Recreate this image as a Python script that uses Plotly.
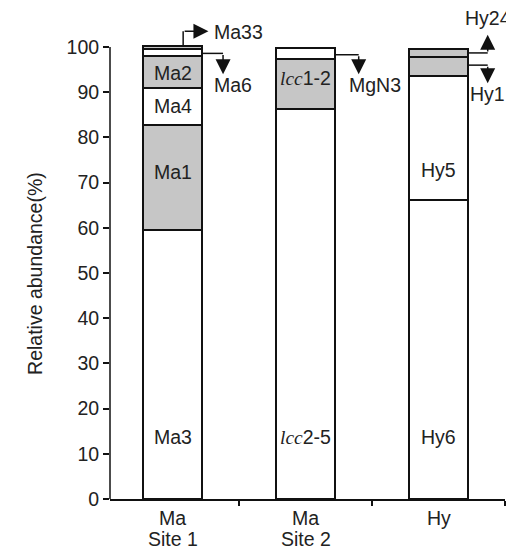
import plotly.graph_objects as go

# ---------------- data ----------------
cat_top = ["Ma", "Ma", "Hy"]
cat_bottom = ["Site 1", "Site 2", ""]

site1_names = ["Ma3", "Ma1", "Ma4", "Ma2", "Ma6", "Ma33"]
site1_values = [59.5, 23.2, 8.2, 7.2, 1.4, 0.7]
site1_gray = [False, True, False, True, False, True]

site2_names = ["lcc2-5", "lcc1-2", "MgN3"]
site2_values = [86.4, 10.9, 2.4]
site2_gray = [False, True, False]

hy_names = ["Hy6", "Hy5", "Hy1", "Hy24"]
hy_values = [66.2, 27.5, 4.2, 1.6]
hy_gray = [False, False, True, True]

y_ticks = [0, 10, 20, 30, 40, 50, 60, 70, 80, 90, 100]

# ---------------- style ----------------
FONT = "Liberation Sans, Arial, sans-serif"
TXT = "#222222"
GRAY = "#c6c6c6"
LINE = "#111111"
BAR_W = 0.45
FS = 19.5

fig = go.Figure()
stacks = [(site1_names, site1_values, site1_gray),
          (site2_names, site2_values, site2_gray),
          (hy_names, hy_values, hy_gray)]
for i, (names, vals, grays) in enumerate(stacks):
    for n, v, g in zip(names, vals, grays):
        fig.add_trace(go.Bar(
            x=[i], y=[v], name=n, width=BAR_W,
            marker=dict(color=GRAY if g else "white",
                        line=dict(color=LINE, width=2)),
            showlegend=False, hoverinfo="name+y"))

fig.update_layout(barmode="stack")

ann = []
def lab(x, y, t, anchor="center", yshift=0):
    ann.append(dict(x=x, y=y, xref="x", yref="y", text=t, showarrow=False,
                    xanchor=anchor, yanchor="middle", yshift=yshift,
                    font=dict(family=FONT, size=FS, color=TXT)))

lcc = "<span style='font-family:Liberation Serif, Times New Roman, serif'><i>lcc</i></span>"
# inside labels
lab(0, 13.7, "Ma3")
lab(0, 72.3, "Ma1")
lab(0, 87.0, "Ma4")
lab(0, 94.3, "Ma2")
lab(1, 13.7, lcc + "2-5")
lab(1, 93.1, lcc + "1-2")
lab(2, 13.7, "Hy6")
lab(2, 72.8, "Hy5")
# outside labels
lab(0.30, 103.4, "Ma33", "left")
lab(0.30, 91.6, "Ma6", "left")
lab(1.31, 91.6, "MgN3", "left")
lab(2.37, 106.4, "Hy24")
lab(2.37, 89.6, "Hy1")

# category labels under the axis
for i, (a, b) in enumerate(zip(cat_top, cat_bottom)):
    lab(i, 0, a, yshift=-19)
    if b:
        lab(i, 0, b, yshift=-40)

shapes = []
def seg(x0, y0, x1, y1):
    shapes.append(dict(type="line", xref="x", yref="y", x0=x0, y0=y0,
                       x1=x1, y1=y1, line=dict(color=LINE, width=1.5)))
def arrow(x0, y0, x1, y1):
    ann.append(dict(x=x1, y=y1, ax=x0, ay=y0, xref="x", yref="y",
                    axref="x", ayref="y", text="", showarrow=True,
                    arrowhead=2, arrowsize=2, arrowwidth=1.5,
                    arrowcolor=LINE))

# Ma33: up then right
seg(0.08, 100.2, 0.08, 103.5)
arrow(0.08, 103.5, 0.27, 103.5)
# Ma6: right then down
seg(0.225, 98.6, 0.38, 98.6)
arrow(0.38, 98.6, 0.38, 94.0)
# MgN3
seg(1.225, 98.3, 1.40, 98.3)
arrow(1.40, 98.3, 1.40, 94.0)
# Hy24: right then up
seg(2.225, 98.7, 2.37, 98.7)
arrow(2.37, 98.7, 2.37, 102.7)
# Hy1: right then down
seg(2.225, 96.0, 2.37, 96.0)
arrow(2.37, 96.0, 2.37, 92.0)

# y axis line (0..100 only)
shapes.append(dict(type="line", xref="paper", yref="y", x0=0, x1=0,
                   y0=-1, y1=100, line=dict(color=LINE, width=1.5)))

# y axis title
ann.append(dict(x=-0.223, y=50, xref="paper", yref="y",
                text="Relative abundance(%)", textangle=-90, showarrow=False,
                font=dict(family=FONT, size=FS, color=TXT)))

# the page body adds an 8px margin, so the figure is 8px smaller
fig.update_layout(
    width=506, height=542,
    margin=dict(l=102, r=9, t=2, b=51),
    paper_bgcolor="white", plot_bgcolor="white",
    annotations=ann, shapes=shapes,
    xaxis=dict(range=[-0.47, 2.5], tickvals=[0, 1, 2], showticklabels=False,
               ticks="", showline=True, linecolor=LINE, linewidth=1.5,
               showgrid=False, zeroline=False, automargin=False,
               minor=dict(tickvals=[0.5, 1.5, 2.5], ticks="outside",
                          ticklen=5, tickwidth=1.5, tickcolor=LINE)),
    yaxis=dict(range=[0, 108.2], tickvals=y_ticks, ticks="outside",
               ticklen=6, tickwidth=1.5, tickcolor=LINE, automargin=False,
               showline=False, showgrid=False, zeroline=False,
               tickfont=dict(family=FONT, size=FS, color=TXT)),
)

fig.write_html("out.html")
